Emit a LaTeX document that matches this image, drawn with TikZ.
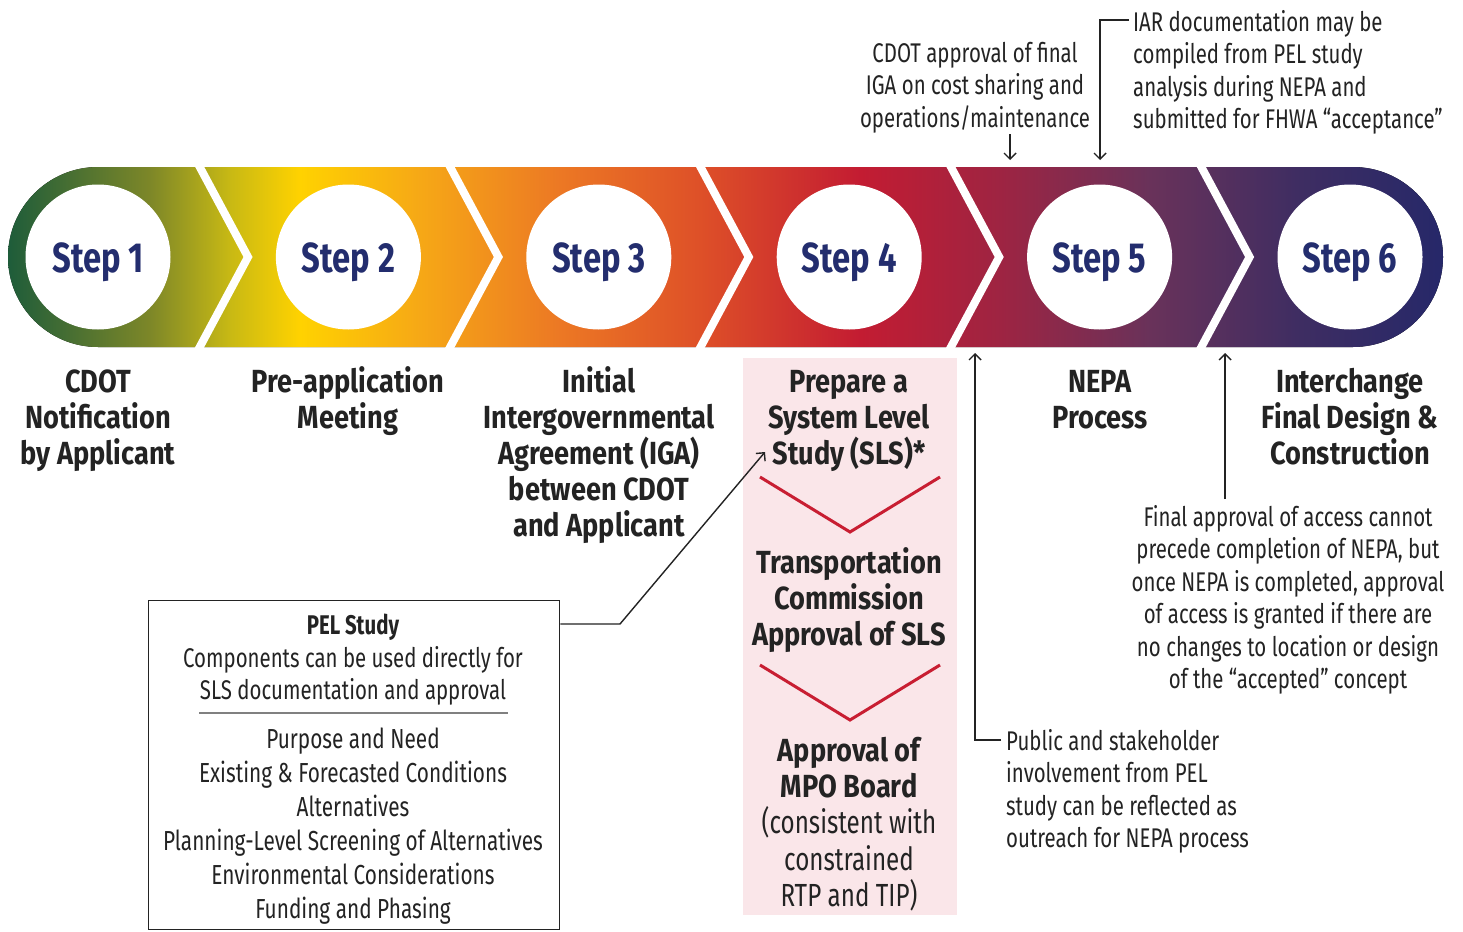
\documentclass[tikz,border=0pt]{standalone}
\usepackage{fontspec}
\setmainfont{Fira Sans}[FakeStretch=0.756]
\newfontfamily\titlefont{Fira Sans}[FakeStretch=0.85]
\newfontfamily\stepfont{Fira Sans}[FakeStretch=0.78]
\usetikzlibrary{arrows.meta}
\definecolor{g0}{RGB}{30,92,58}
\definecolor{g1}{RGB}{125,135,40}
\definecolor{g2}{RGB}{200,185,20}
\definecolor{g3}{RGB}{255,210,0}
\definecolor{g4}{RGB}{246,168,22}
\definecolor{g5}{RGB}{236,120,36}
\definecolor{g6}{RGB}{222,80,40}
\definecolor{g7}{RGB}{195,28,50}
\definecolor{g8}{RGB}{158,36,66}
\definecolor{g9}{RGB}{105,50,90}
\definecolor{g10}{RGB}{62,45,98}
\definecolor{g11}{RGB}{38,40,105}
\definecolor{stepblue}{RGB}{35,45,110}
\definecolor{pinkbg}{RGB}{250,230,233}
\definecolor{redline}{RGB}{200,30,50}
\definecolor{ink}{RGB}{35,35,35}
\pgfdeclarehorizontalshading{bandshade}{100bp}{color(0bp)=(g0); color(25bp)=(g0); color(29.95bp)=(g1); color(32.74bp)=(g2); color(35.17bp)=(g3); color(39.36bp)=(g4); color(44.23bp)=(g5); color(49.11bp)=(g6); color(54.69bp)=(g7); color(59.56bp)=(g8); color(64.79bp)=(g9); color(70.02bp)=(g10); color(75bp)=(g11); color(100bp)=(g11)}
\newcommand{\tstrut}{\rule{0pt}{26pt}}
\newcommand{\nstrut}{\rule{0pt}{20pt}}
\tikzset{
  stepcircle/.style={circle, fill=white, minimum size=145pt, inner sep=0pt, text=stepblue, font=\fontsize{42}{48}\stepfont\bfseries},
  title/.style={align=center, inner sep=0pt, anchor=north, text=ink, font=\fontsize{32}{36}\titlefont\bfseries},
  note/.style={inner sep=0pt, text=ink, font=\fontsize{27}{32.5}\selectfont},
  arr/.style={draw=ink, line width=1.4pt, -{Straight Barb[length=6pt,width=12pt,line width=1.4pt]}},
  plain/.style={draw=ink, line width=1.4pt},
  gap/.style={draw=white, line width=8pt, line join=miter},
  redchev/.style={draw=redline, line width=3pt}
}
\begin{document}
\begin{tikzpicture}[x=1pt,y=-1pt]
\useasboundingbox[fill=white] (0,0) rectangle (1463,931);
% band
\fill[shading=bandshade, rounded corners=90pt] (8,167) rectangle (1443,347);
\foreach \k in {0,...,4} {
  \draw[gap] ({196+250.4*\k},160) -- ({248+250.4*\k},257) -- ({196+250.4*\k},354);
}
\foreach \k/\n in {0/1,1/2,2/3,3/4,4/5,5/6} {
  \node[stepcircle] (c\n) at ({98+250.4*\k},257) {};
  \node[text=stepblue, font=\fontsize{42}{48}\stepfont\bfseries, anchor=base, inner sep=0pt] (s\n) at ({98+250.4*\k},272) {Step \n};
}
% pink box
\node[fill=pinkbg, minimum width=214pt, minimum height=557pt, anchor=north west, inner sep=0pt] (slsbox) at (743,358) {};
\draw[redchev] (760,477) -- (850,532) -- (940,477);
\draw[redchev] (760,665) -- (850,720) -- (940,665);
% titles
\node[title] (t1) at (98,366) {\tstrut CDOT\\Notification\\by Applicant};
\node[title] (t2) at (348,366) {\tstrut Pre-application\\Meeting};
\node[title] (t3) at (599,366) {\tstrut Initial\\Intergovernmental\\Agreement (IGA)\\between CDOT\\and Applicant};
\node[title] (t4) at (849,366) {\tstrut Prepare a\\System Level\\Study (SLS)*};
\node[title] (t4b) at (849,547) {\tstrut Transportation\\Commission\\Approval of SLS};
\node[title, font=\fontsize{32}{36.3}\selectfont] (t4c) at (849,735) {\tstrut{\titlefont\bfseries Approval of}\\{\titlefont\bfseries MPO Board}\\(consistent with\\constrained\\RTP and TIP)};
\node[title] (t5) at (1100,366) {\tstrut NEPA\\Process};
\node[title] (t6) at (1350,366) {\tstrut Interchange\\Final Design \&\\Construction};
% top notes
\node[note, align=center, anchor=north] (n1) at (975,42) {\nstrut CDOT approval of final\\IGA on cost sharing and\\operations/maintenance};
\node[note, align=left, anchor=north west] (n2) at (1133,10) {\nstrut IAR documentation may be\\compiled from PEL study\\analysis during NEPA and\\submitted for FHWA “acceptance”};
\coordinate (a1) at (1010,134);
\coordinate (b1) at (1010,160);
\draw[arr] (a1) -- (b1);
\coordinate (b2) at (1100,160);
\draw[arr] ([xshift=-4pt,yshift=-10pt]n2.north west) -| (b2);
% bottom notes
\node[note, align=left, anchor=north west] (n3) at (1006,729) {\nstrut Public and stakeholder\\involvement from PEL\\study can be reflected as\\outreach for NEPA process};
\coordinate (b3) at (975,353);
\draw[arr] ([xshift=-5pt,yshift=-11pt]n3.north west) -| (b3);
\node[note, align=center, anchor=north] (n4) at (1288,505) {\nstrut Final approval of access cannot\\precede completion of NEPA, but\\once NEPA is completed, approval\\of access is granted if there are\\no changes to location or design\\of the “accepted” concept};
\coordinate (b4) at (1225,353);
\draw[arr] (n4.north -| b4) ++(0,-6) -- (b4);
% PEL box
\node[draw=ink, line width=1.4pt, minimum width=411pt, minimum height=329pt, anchor=north west, inner sep=0pt] (pel) at (148,600) {};
\node[note, align=center, anchor=north] (p1) at (353,614) {\nstrut\textbf{PEL Study}\\Components can be used directly for\\SLS documentation and approval};
\draw[draw=gray, line width=1.5pt] (199,713) -- (508,713);
\node[note, align=center, anchor=north, font=\fontsize{27.5}{34}\selectfont] (p2) at (353,728) {\nstrut Purpose and Need\\Existing \& Forecasted Conditions\\Alternatives\\Planning-Level Screening of Alternatives\\Environmental Considerations\\Funding and Phasing};
\coordinate (c1) at (620,624);
\coordinate (c2) at (765,452);
\draw[arr] (pel.east |- c1) -- (c1) -- (c2);
\end{tikzpicture}
\end{document}
